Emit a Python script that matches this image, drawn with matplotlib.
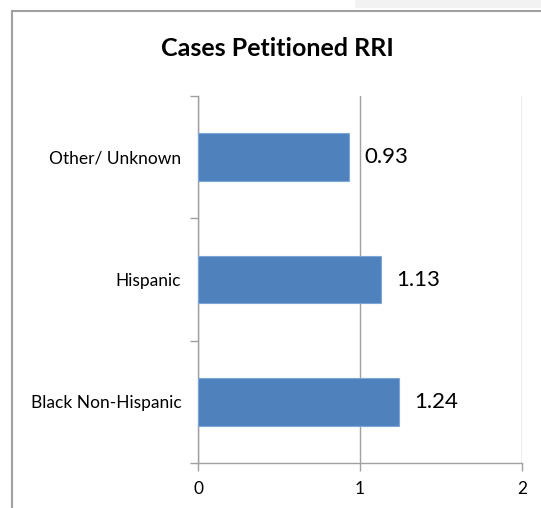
import matplotlib
matplotlib.use("Agg")
import matplotlib.pyplot as plt
from matplotlib.patches import Rectangle

categories = ["Black Non-Hispanic", "Hispanic", "Other/ Unknown"]
values = [1.24, 1.13, 0.93]
xticks = [0, 1, 2]
title = "Cases Petitioned RRI"

plt.rcParams['font.family'] = ['Lato', 'DejaVu Sans']

W, H = 541, 508
fig = plt.figure(figsize=(W/100, H/100), dpi=100)
fig.patch.set_facecolor('white')

# top-right shadow strip
fig.patches.append(Rectangle((355/W, (H-8)/H), 1 - 355/W, 8/H, transform=fig.transFigure,
                             facecolor='#f2f2f2', edgecolor='none', linewidth=0, zorder=0))
# chart border
fig.patches.append(Rectangle((12/W, -0.05), 1.2, (H-11)/H + 0.05, transform=fig.transFigure,
                             facecolor='white', edgecolor='#a0a0a0', linewidth=1.5, zorder=1))

ax = fig.add_axes([198/W, (H-463)/H, (522-198)/W, (463-96)/H])
ax.set_zorder(2)
ax.patch.set_alpha(0)

y = list(range(len(categories)))
bars = ax.barh(y, values, height=0.39, color='#4F81BD', edgecolor='#7EA6D6', linewidth=0.8, zorder=3)
for yi, v in zip(y, values):
    ax.text(v + 0.095, yi, f"{v:.2f}", va='center', ha='left', fontsize=16, color='black', zorder=4)

ax.set_xlim(0, 2)
ax.set_ylim(-0.5, len(categories) - 0.5)
ax.set_xticks(xticks)
ax.set_xticklabels([str(t) for t in xticks], fontsize=12.5)
ax.set_yticks(y)
ax.set_yticklabels(categories, fontsize=12.5)
ax.tick_params(axis='y', length=0, pad=12)
ax.set_yticks([yy + 0.5 for yy in [-1] + y], minor=True)
ax.tick_params(axis='y', which='minor', length=6, color='#a0a0a0', width=1)
ax.tick_params(axis='x', length=6, color='#a0a0a0', width=1, pad=7)

ax.grid(axis='x', color='#a0a0a0', linewidth=1, zorder=1)
for s in ['top', 'right']:
    ax.spines[s].set_visible(False)
for s in ['left', 'bottom']:
    ax.spines[s].set_color('#a0a0a0')
    ax.spines[s].set_linewidth(1)

fig.text(277/W, (H-48)/H, title, ha='center', va='center', fontsize=18, fontweight='bold')

fig.savefig('out.png', dpi=100)
